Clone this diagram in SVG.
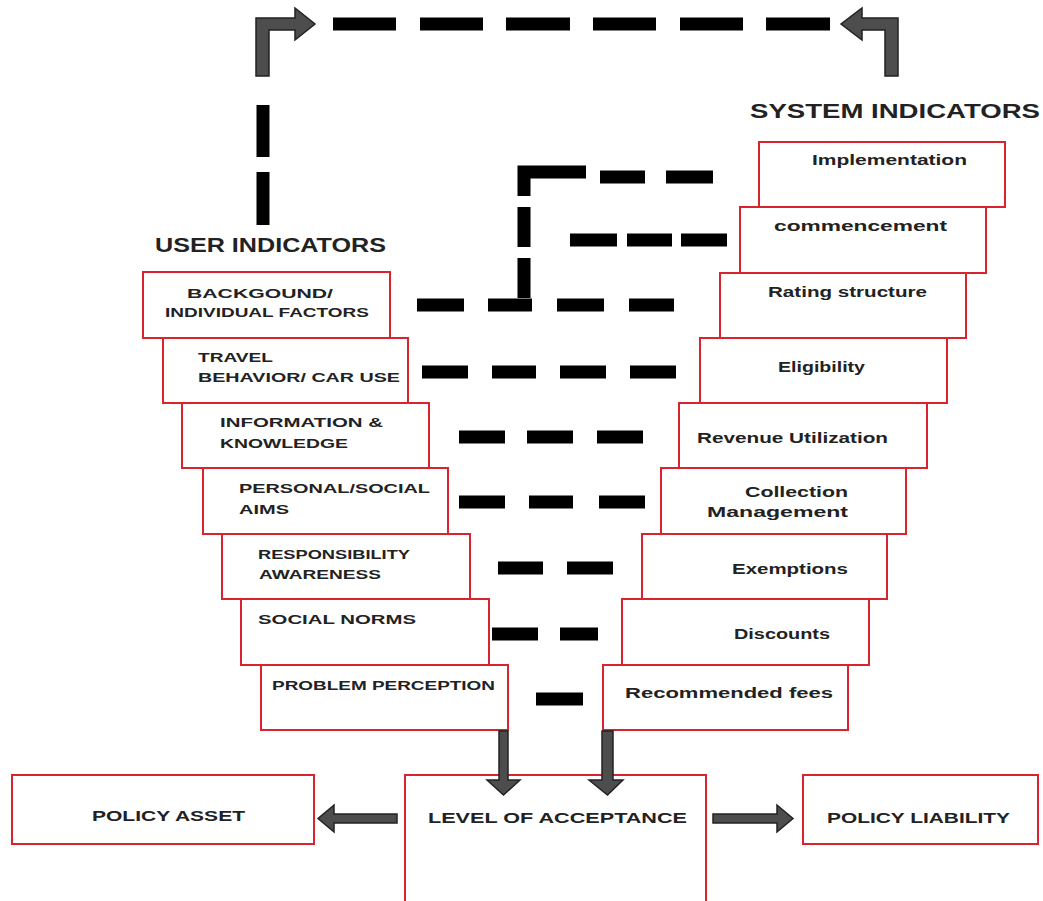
<svg xmlns="http://www.w3.org/2000/svg" width="1043" height="901" viewBox="0 0 1043 901">
<style>
.box{fill:#fff;stroke:#d9232f;stroke-width:2}
.lab{font-family:"Liberation Sans",Arial,sans-serif;font-weight:bold;font-size:13px;fill:#222}
.rlab{font-family:"Liberation Sans",Arial,sans-serif;font-weight:bold;font-size:14px;fill:#222}
.big{font-family:"Liberation Sans",Arial,sans-serif;font-weight:bold;font-size:20px;fill:#222}
.mid{font-family:"Liberation Sans",Arial,sans-serif;font-weight:bold;font-size:15px;fill:#222}
.dash{fill:none;stroke:#000;stroke-width:13}
.arr{fill:#4d4d4d;stroke:#222;stroke-width:1.5;stroke-linejoin:miter}
</style>
<rect width="1043" height="901" fill="#fff"/>

<text class="big" x="155" y="252" textLength="231" lengthAdjust="spacingAndGlyphs">USER INDICATORS</text>
<text class="big" x="750" y="118" textLength="290" lengthAdjust="spacingAndGlyphs">SYSTEM INDICATORS</text>

<g id="user-indicators">
<g id="u1"><rect class="box" x="143" y="272" width="247" height="66"/>
<text class="lab" x="187" y="298" textLength="146" lengthAdjust="spacingAndGlyphs">BACKGOUND/</text>
<text class="lab" x="165" y="317" textLength="204" lengthAdjust="spacingAndGlyphs">INDIVIDUAL FACTORS</text></g>
<g id="u2"><rect class="box" x="163" y="338" width="245" height="65"/>
<text class="lab" x="198" y="362" textLength="75" lengthAdjust="spacingAndGlyphs">TRAVEL</text>
<text class="lab" x="198" y="382" textLength="202" lengthAdjust="spacingAndGlyphs">BEHAVIOR/ CAR USE</text></g>
<g id="u3"><rect class="box" x="182" y="403" width="247" height="65"/>
<text class="lab" x="220" y="427" textLength="163" lengthAdjust="spacingAndGlyphs">INFORMATION &amp;</text>
<text class="lab" x="220" y="448" textLength="128" lengthAdjust="spacingAndGlyphs">KNOWLEDGE</text></g>
<g id="u4"><rect class="box" x="203" y="468" width="245" height="66"/>
<text class="lab" x="239" y="493" textLength="191" lengthAdjust="spacingAndGlyphs">PERSONAL/SOCIAL</text>
<text class="lab" x="239" y="514" textLength="50" lengthAdjust="spacingAndGlyphs">AIMS</text></g>
<g id="u5"><rect class="box" x="222" y="534" width="248" height="65"/>
<text class="lab" x="258" y="559" textLength="152" lengthAdjust="spacingAndGlyphs">RESPONSIBILITY</text>
<text class="lab" x="259" y="579" textLength="122" lengthAdjust="spacingAndGlyphs">AWARENESS</text></g>
<g id="u6"><rect class="box" x="241" y="599" width="248" height="66"/>
<text class="lab" x="258" y="624" textLength="158" lengthAdjust="spacingAndGlyphs">SOCIAL NORMS</text></g>
<g id="u7"><rect class="box" x="261" y="665" width="247" height="65"/>
<text class="lab" x="272" y="690" textLength="223" lengthAdjust="spacingAndGlyphs">PROBLEM PERCEPTION</text></g>
</g>

<g id="system-indicators">
<g id="s1"><rect class="box" x="759" y="142" width="246" height="65"/>
<text class="rlab" x="812" y="165" textLength="155" lengthAdjust="spacingAndGlyphs">Implementation</text></g>
<g id="s2"><rect class="box" x="740" y="207" width="246" height="66"/>
<text class="rlab" x="774" y="231" textLength="173" lengthAdjust="spacingAndGlyphs">commencement</text></g>
<g id="s3"><rect class="box" x="720" y="273" width="246" height="65"/>
<text class="rlab" x="768" y="297" textLength="159" lengthAdjust="spacingAndGlyphs">Rating structure</text></g>
<g id="s4"><rect class="box" x="700" y="338" width="247" height="65"/>
<text class="rlab" x="778" y="372" textLength="87" lengthAdjust="spacingAndGlyphs">Eligibility</text></g>
<g id="s5"><rect class="box" x="679" y="403" width="248" height="65"/>
<text class="rlab" x="697" y="443" textLength="191" lengthAdjust="spacingAndGlyphs">Revenue Utilization</text></g>
<g id="s6"><rect class="box" x="661" y="468" width="245" height="66"/>
<text class="rlab" x="745" y="497" textLength="103" lengthAdjust="spacingAndGlyphs">Collection</text>
<text class="rlab" x="707" y="517" textLength="141" lengthAdjust="spacingAndGlyphs">Management</text></g>
<g id="s7"><rect class="box" x="642" y="534" width="245" height="65"/>
<text class="rlab" x="732" y="574" textLength="116" lengthAdjust="spacingAndGlyphs">Exemptions</text></g>
<g id="s8"><rect class="box" x="622" y="599" width="247" height="66"/>
<text class="rlab" x="734" y="639" textLength="96" lengthAdjust="spacingAndGlyphs">Discounts</text></g>
<g id="s9"><rect class="box" x="603" y="665" width="245" height="65"/>
<text class="rlab" x="625" y="698" textLength="208" lengthAdjust="spacingAndGlyphs">Recommended fees</text></g>
</g>

<g id="policy-asset"><rect class="box" x="12" y="775" width="302" height="69"/>
<text class="mid" x="92" y="821" textLength="153" lengthAdjust="spacingAndGlyphs">POLICY ASSET</text></g>
<g id="level-of-acceptance"><rect class="box" x="405" y="775" width="301" height="140"/>
<text class="mid" x="428" y="823" textLength="259" lengthAdjust="spacingAndGlyphs">LEVEL OF ACCEPTANCE</text></g>
<g id="policy-liability"><rect class="box" x="803" y="775" width="235" height="69"/>
<text class="mid" x="827" y="823" textLength="183" lengthAdjust="spacingAndGlyphs">POLICY LIABILITY</text></g>

<g id="connectors">
<path class="dash" d="M333 24H396M420 24H483M506 24H570M593 24H656M680 24H743M766 24H830"/>
<path class="dash" d="M263 105V157M263 172V225"/>
<path class="arr" d="M256 76V18H295V8L315 24L295 40V30H269V76Z"/>
<path class="arr" d="M898 76V18H862V8L841 24L862 40V30H885V76Z"/>
<path class="dash" d="M524 196V172H586M600 177H645M666 177H713M524 207V247M524 258V298"/>
<path class="dash" d="M570 240H617M627 240H672M681 240H727"/>
<path class="dash" d="M417 305H464M488 305H532M557 305H604M629 305H674"/>
<path class="dash" d="M422 372H468M492 372H536M560 372H606M630 372H676"/>
<path class="dash" d="M459 437H505M527 437H573M597 437H643"/>
<path class="dash" d="M459 502H505M529 502H573M599 502H645"/>
<path class="dash" d="M498 568H543M567 568H613"/>
<path class="dash" d="M492 634H538M560 634H598"/>
<path class="dash" d="M536 699H583"/>
<path class="arr" d="M499 731H508V780H520L503.5 795L487 780H499Z"/>
<path class="arr" d="M602 731H613V780H623L607.5 795L589 780H602Z"/>
<path class="arr" d="M397 814V823H334V832L318 818.5L334 805V814Z"/>
<path class="arr" d="M713 814V823H777V832L793 818.5L777 805V814Z"/>
</g>
</svg>
